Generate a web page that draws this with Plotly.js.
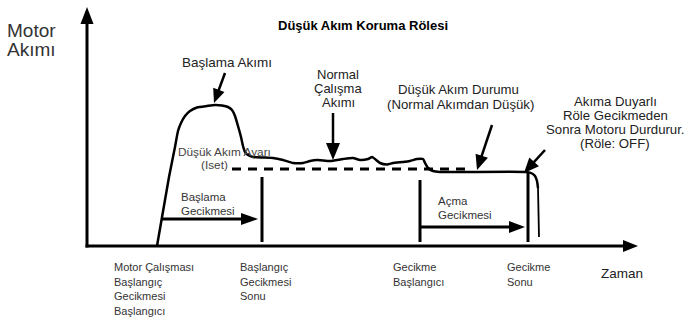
<!DOCTYPE html>
<html><head><meta charset="utf-8">
<script src="https://cdn.plot.ly/plotly-3.0.1.min.js"></script>
<style>html,body{margin:0;padding:0;background:#fff}#chart{width:688px;height:320px}</style>
</head><body><div id="chart"></div>
<script>
// ---- data (time, motor current) measured from the axes origin ----
const curveTime = [70, 82, 88, 91, 94, 98, 103, 110, 120, 128, 135, 141, 145, 148, 151, 154, 156, 158, 161, 166, 176, 186, 196, 206, 216, 223, 230, 243, 256, 266, 273, 281, 285, 288, 293, 300, 306, 316, 323, 330, 336, 338, 341, 346, 353, 440, 445, 448, 450, 451];
const curveCurrent = [0, 69, 99, 115, 123, 130, 135, 138.5, 140, 141, 140.5, 139, 136, 130, 120, 109, 100, 94, 91, 89, 88.5, 88, 86, 83, 83, 85, 86, 85, 87, 88, 86, 87, 89, 87, 83, 81.5, 83, 84, 85, 87, 87, 83, 78, 75, 74, 74, 72.5, 70, 65, 58];
const tripTime = [451, 452];
const tripCurrent = [58, 9];
const isetLevel = 77;
const isetSpan = [145, 378];
const eventTimes = [70, 175, 333, 441];
const eventLabels = ["Motor Çalışması<br>Başlangıç<br>Gecikmesi<br>Başlangıcı", "Başlangıç<br>Gecikmesi<br>Sonu", "Gecikme<br>Başlangıcı", "Gecikme<br>Sonu"];
const delayLabels = ["Başlama<br>Gecikmesi", "Açma<br>Gecikmesi"];
const titleText = "Düşük Akım Koruma Rölesi";
const yAxisLabel = "Motor<br>Akımı";
const xAxisLabel = "Zaman";

// ---- layout helpers ----
const FONT = "Liberation Sans, Arial, sans-serif";
const shapes = [];
const annotations = [];
function arrow(x0, y0, x1, y1, len, half, w) {
  const dx = x1 - x0, dy = y1 - y0, L = Math.hypot(dx, dy), ux = dx / L, uy = dy / L;
  const bx = x1 - ux * len, by = y1 - uy * len;
  shapes.push({type: 'line', xref: 'x', yref: 'y', x0: x0, y0: y0, x1: bx + ux, y1: by + uy, line: {color: '#000', width: w}});
  shapes.push({type: 'path', xref: 'x', yref: 'y',
    path: 'M' + x1 + ',' + y1 + ' L' + (bx - uy * half) + ',' + (by + ux * half) + ' L' + (bx + uy * half) + ',' + (by - ux * half) + ' Z',
    fillcolor: '#000', line: {width: 0}});
}
function text(str, x, y, size, opts) {
  opts = opts || {};
  const lines = str.split('<br>');
  const gap = opts.gap || size * 1.0;
  lines.forEach(function (ln, i) {
    annotations.push({text: ln, x: x, y: y - i * gap, xref: 'x', yref: 'y', showarrow: false,
      xanchor: opts.anchor || 'center', yanchor: 'middle', borderpad: 0,
      font: {family: FONT, size: size, color: opts.color || '#222', weight: opts.weight || 'normal'}});
  });
}

// axes with arrowheads
arrow(0, -1.5, 0, 239, 17, 6.5, 3);
arrow(-1.5, 0, 551, 0, 15, 6, 3);

// event markers
const markTop = [null, 69, 66, 73];
for (let i = 1; i < eventTimes.length; i++) {
  shapes.push({type: 'line', xref: 'x', yref: 'y', x0: eventTimes[i], x1: eventTimes[i], y0: 4, y1: markTop[i], line: {color: '#000', width: 3}});
}
// delay arrows
arrow(75, 27, eventTimes[1] - 4, 27, 17, 6, 3);
arrow(eventTimes[2], 19, eventTimes[3] - 3, 19, 16, 6, 3);
// callout arrows
arrow(138, 173, 127, 143, 14, 6, 2.5);
arrow(246, 133, 246, 86, 17, 7, 2.5);
arrow(405, 121, 390, 76, 15, 6.5, 2.5);
arrow(458, 96, 437, 73, 15, 6.5, 2.5);

// texts
text(yAxisLabel, -81, 216, 19, {anchor: 'left', gap: 19.5, color: '#333'});
text(titleText, 276, 221, 13, {weight: 'bold', color: '#000'});
text("Başlama Akımı", 140, 184, 13.5);
text("Normal<br>Çalışma<br>Akımı", 251, 171.5, 13, {gap: 14});
text("Düşük Akım Durumu", 371, 156.5, 13.2);
text("(Normal Akımdan Düşük)", 373, 142, 13.2);
text("Akıma Duyarlı<br>Röle Gecikmeden<br>Sonra Motoru Durdurur.<br>(Röle: OFF)", 528, 145, 13.2, {gap: 14});
text("Düşük Akım Ayarı", 90, 94.5, 11.8, {anchor: 'left', color: '#444'});
text("(Iset)", 113, 81.5, 11.8, {anchor: 'left', color: '#444'});
text(delayLabels[0], 93, 49, 11.5, {anchor: 'left', gap: 14, color: '#333'});
text(delayLabels[1], 350, 45, 11.5, {anchor: 'left', gap: 14, color: '#333'});
const labelLeft = [26, 152, 305, 419];
eventLabels.forEach(function (lab, i) {
  text(lab, labelLeft[i], -21, 11, {anchor: 'left', gap: 14.7, color: '#333'});
});
text(xAxisLabel, 513, -27, 13.5, {anchor: 'left', color: '#222'});

const traces = [
  {x: curveTime, y: curveCurrent, mode: 'lines', line: {color: '#000', width: 2.5, shape: 'spline', smoothing: 0.5}, hoverinfo: 'skip'},
  {x: tripTime, y: tripCurrent, mode: 'lines', line: {color: '#000', width: 1.8}, hoverinfo: 'skip'},
  {x: isetSpan, y: [isetLevel, isetLevel], mode: 'lines', line: {color: '#000', width: 3, dash: '9px,7px'}, hoverinfo: 'skip'}
];

const layout = {
  width: 688, height: 320, margin: {l: 0, r: 0, t: 0, b: 0},
  paper_bgcolor: '#fff', plot_bgcolor: '#fff', showlegend: false,
  xaxis: {range: [-87, 601], visible: false, fixedrange: true},
  yaxis: {range: [-74, 246], visible: false, fixedrange: true},
  shapes: shapes, annotations: annotations
};
Plotly.newPlot('chart', traces, layout, {staticPlot: true, displayModeBar: false});
</script>
</body></html>
